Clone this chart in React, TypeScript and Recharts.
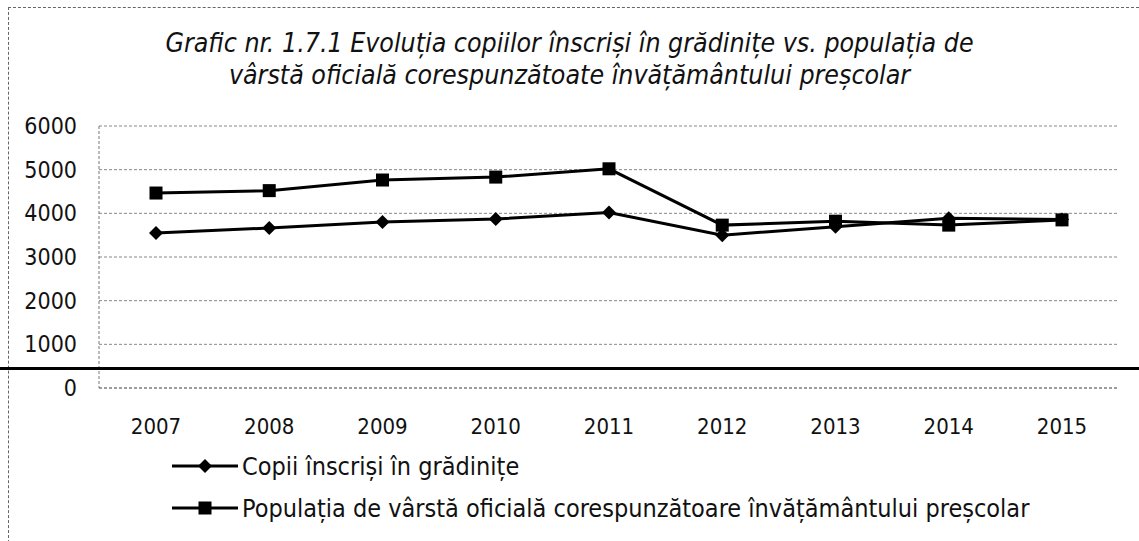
import { LineChart, Line, XAxis, YAxis, CartesianGrid } from "recharts";

const years = ["2007", "2008", "2009", "2010", "2011", "2012", "2013", "2014", "2015"];
const copii = [3550, 3664, 3800, 3870, 4020, 3500, 3690, 3890, 3860];
const populatia = [4465, 4520, 4763, 4830, 5020, 3730, 3820, 3730, 3850];
const yTicks = [0, 1000, 2000, 3000, 4000, 5000, 6000];

const seriesNames = {
  copii: "Copii înscriși în grădinițe",
  populatia: "Populația de vârstă oficială corespunzătoare învățământului preșcolar",
};

const data = years.map((year, i) => ({
  year,
  copii: copii[i],
  populatia: populatia[i],
}));

const font = "'DejaVu Sans Condensed', 'Liberation Sans Narrow', sans-serif";

const Diamond = ({ cx, cy }: any) => {
  if (cx == null || cy == null) return null;
  const r = 7;
  return (
    <path
      d={`M${cx},${cy - r} L${cx + r},${cy} L${cx},${cy + r} L${cx - r},${cy} Z`}
      fill="#000"
    />
  );
};

const Square = ({ cx, cy }: any) => {
  if (cx == null || cy == null) return null;
  const s = 13;
  return <rect x={cx - s / 2} y={cy - s / 2} width={s} height={s} fill="#000" />;
};

const LegendRow = ({ kind, label }: { kind: "diamond" | "square"; label: string }) => (
  <div style={{ display: "flex", alignItems: "center", height: 42 }}>
    <svg width={70} height={20}>
      <line x1={2} y1={10} x2={68} y2={10} stroke="#000" strokeWidth={3} />
      {kind === "diamond" ? <Diamond cx={35} cy={10} /> : <Square cx={35} cy={10} />}
    </svg>
    <span style={{ fontFamily: font, fontSize: 25, color: "#111", marginLeft: 2 }}>{label}</span>
  </div>
);

export default function App() {
  return (
    <div
      style={{
        position: "absolute",
        left: 0,
        top: 0,
        width: 1139,
        height: 541,
        background: "#fff",
        overflow: "hidden",
      }}
    >
      {/* scanned page frame */}
      <div
        style={{
          position: "absolute",
          left: 8,
          top: 7,
          width: 1140,
          height: 540,
          borderTop: "1px dashed #666",
          borderLeft: "1px dashed #666",
        }}
      />

      <div
        style={{
          position: "absolute",
          left: 0,
          top: 27,
          width: 1139,
          textAlign: "center",
          fontFamily: font,
          fontStyle: "italic",
          fontSize: 26.5,
          lineHeight: "32px",
          color: "#111",
        }}
      >
        Grafic nr. 1.7.1 Evoluția copiilor înscriși în grădinițe vs. populația de
        <br />
        vârstă oficială corespunzătoate învățământului preșcolar
      </div>

      <div style={{ position: "absolute", left: 0, top: 0 }}>
        <LineChart
          width={1139}
          height={541}
          data={data}
          margin={{ top: 126, right: 20, bottom: 103, left: 0 }}
        >
          <CartesianGrid
            vertical={false}
            stroke="#888"
            strokeDasharray="3 2"
            strokeWidth={1}
          />
          <XAxis
            dataKey="year"
            height={50}
            padding={{ left: 57, right: 57 }}
            axisLine={{ stroke: "#777", strokeDasharray: "3 2" }}
            tickLine={false}
            tickMargin={24}
            tick={{ fontFamily: font, fontSize: 22, fill: "#111" }}
          />
          <YAxis
            width={99}
            domain={[0, 6000]}
            ticks={yTicks}
            interval={0}
            axisLine={{ stroke: "#777", strokeDasharray: "3 2" }}
            tickLine={false}
            tickSize={0}
            tickMargin={22}
            tick={{ fontFamily: font, fontSize: 23, fill: "#111" }}
          />
          <Line
            dataKey="copii"
            name={seriesNames.copii}
            stroke="#000"
            strokeWidth={3}
            dot={<Diamond />}
            isAnimationActive={false}
          />
          <Line
            dataKey="populatia"
            name={seriesNames.populatia}
            stroke="#000"
            strokeWidth={3}
            dot={<Square />}
            isAnimationActive={false}
          />
        </LineChart>
      </div>

      {/* heavy rule from the scanned page */}
      <div
        style={{
          position: "absolute",
          left: 0,
          top: 367,
          width: 1139,
          height: 3,
          background: "#000",
        }}
      />

      <div style={{ position: "absolute", left: 170, top: 445 }}>
        <LegendRow kind="diamond" label={seriesNames.copii} />
        <LegendRow kind="square" label={seriesNames.populatia} />
      </div>
    </div>
  );
}
